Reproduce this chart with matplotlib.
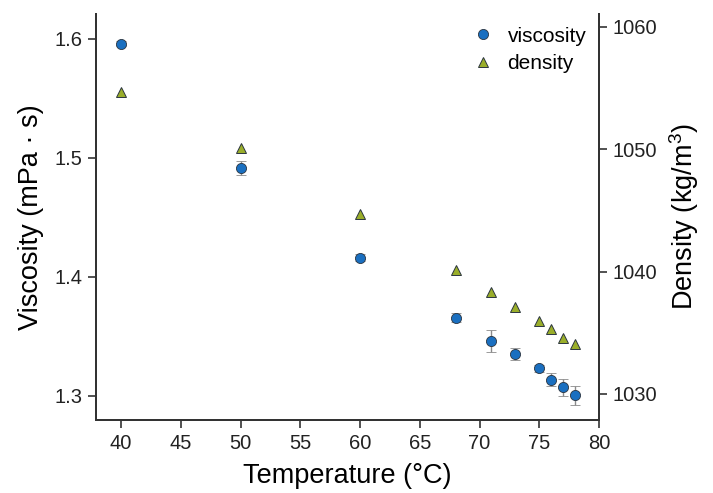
import numpy as np
import matplotlib
matplotlib.use("Agg")
import matplotlib.pyplot as plt

plt.rcParams['font.family'] = ['Liberation Sans', 'DejaVu Sans']
plt.rcParams['mathtext.default'] = 'regular'

# data
temp = [40, 50, 60, 68, 71, 73, 75, 76, 77, 78]
viscosity = [1.596, 1.4915, 1.416, 1.3656, 1.346, 1.335, 1.323, 1.3134, 1.307, 1.3006]
visc_err = [0.002, 0.006, 0.003, 0.004, 0.0095, 0.005, 0.003, 0.0056, 0.007, 0.008]
density = [1054.66, 1050.13, 1044.7, 1040.13, 1038.36, 1037.13, 1035.99, 1035.28, 1034.55, 1034.1]

blue = '#1a6fc0'
olive = '#9aae2a'
edge = '#2b3540'
spine_col = '#333333'

fig = plt.figure(figsize=(7.13, 4.93), dpi=100)
ax = fig.add_axes([0.1346, 0.1481, 0.7055, 0.8235])
ax2 = ax.twinx()

h1 = ax.errorbar(temp, viscosity, yerr=visc_err, fmt='o', color=blue, mec=edge, mew=0.6,
                 ms=7.3, ecolor='#8a8a8a', elinewidth=1, capsize=3.5, capthick=1, label='viscosity', zorder=3)
h2, = ax2.plot(temp, density, '^', color=olive, mec=edge, mew=0.7, ms=7.8, label='density', zorder=3)

ax.set_xlim(37.9, 80)
ax.set_ylim(1.2796, 1.621)
ax2.set_ylim(1027.87, 1061.06)
ax.set_xticks(np.arange(40, 81, 5))
ax.set_yticks([1.3, 1.4, 1.5, 1.6])
ax2.set_yticks([1030, 1040, 1050, 1060])

for a in (ax, ax2):
    a.spines['top'].set_visible(False)
    for s in ('left', 'bottom', 'right'):
        a.spines[s].set_color(spine_col)
        a.spines[s].set_linewidth(1.4)
    a.tick_params(direction='out', length=6, width=1.2, color=spine_col, labelsize=14.5,
                  labelcolor='#222222', pad=4)

ax.set_xlabel('Temperature (°C)', fontsize=19.5, labelpad=7)
ax.set_ylabel('Viscosity (mPa · s)', fontsize=19.5, labelpad=7)
ax2.set_ylabel('Density (kg/m$^3$)', fontsize=19.5, labelpad=7)

ax2.legend([h1[0], h2], ['viscosity', 'density'], loc='upper right', bbox_to_anchor=(1.0, 1.0),
           frameon=False, fontsize=15, handlelength=1.0, handletextpad=0.7,
           labelspacing=0.4, borderaxespad=0.2)

fig.savefig('out.png', dpi=100)
